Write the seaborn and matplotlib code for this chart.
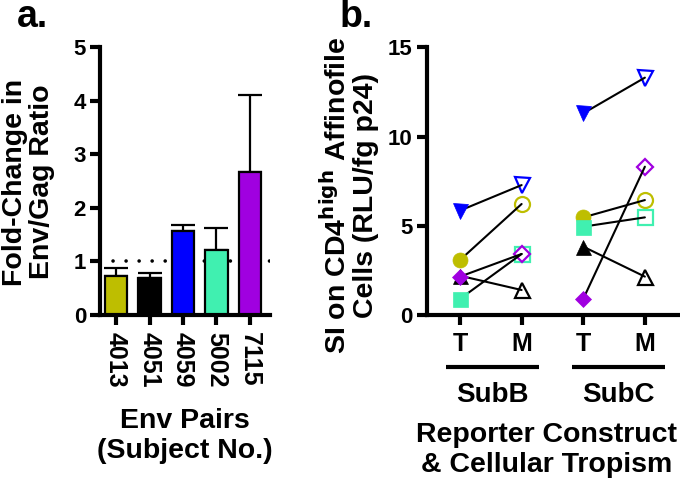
import matplotlib
matplotlib.use("Agg")
import matplotlib.pyplot as plt
import seaborn as sns
import numpy as np
import pandas as pd

sns.set_theme(style="ticks")
plt.rcParams['font.family'] = ['Liberation Sans', 'DejaVu Sans']
plt.rcParams['font.weight'] = 'bold'
for k in ['text.color', 'axes.labelcolor', 'xtick.color', 'ytick.color', 'axes.edgecolor']:
    plt.rcParams[k] = 'black'

# ---------------- data ----------------
subjects = ['4013', '4051', '4059', '5002', '7115']
colors = ['#BEBE00', '#000000', '#0000FF', '#40F0B0', '#A000E0']
markers = ['o', '^', 'v', 's', 'D']
fold_change = [0.73, 0.69, 1.56, 1.22, 2.68]
fold_err = [0.15, 0.10, 0.12, 0.41, 1.43]

conditions = ['T', 'M', 'T', 'M']
groups = ['SubB', 'SubC']
subB_T = [3.08, 2.20, 5.85, 0.90, 2.15]
subB_M = [6.22, 1.40, 7.28, 3.42, 3.42]
subC_T = [5.47, 3.83, 11.30, 4.95, 0.90]
subC_M = [6.44, 2.15, 13.30, 5.47, 8.31]

LW = 3.0
fig = plt.figure(figsize=(6.8, 4.84), dpi=100)

# ---------------- panel a ----------------
axA = fig.add_axes([100/680, 1-315/484, 170/680, (315-47.3)/484])
dfA = pd.DataFrame({'subject': subjects, 'fold': fold_change})
axA.axhline(1, color='black', lw=2.6, dashes=(0.01, 3.6), dash_capstyle='round', zorder=0)
sns.barplot(data=dfA, x='subject', y='fold', hue='subject', palette=colors,
            order=subjects, hue_order=subjects, legend=False, errorbar=None,
            saturation=1, width=0.68, edgecolor='black', linewidth=1.6, ax=axA, zorder=2)
axA.errorbar(np.arange(len(subjects)), fold_change,
             yerr=[np.zeros(len(subjects)), fold_err], fmt='none',
             ecolor='black', elinewidth=1.6, capsize=8.5, capthick=1.6, zorder=1)
axA.set_ylim(0, 5)
axA.set_xlim(-0.48, 4.6)
axA.set_yticks([0, 1, 2, 3, 4, 5])
axA.set_xlabel('')
axA.set_ylabel('')
axA.tick_params(axis='y', labelsize=16, length=7, width=LW, pad=3)
axA.tick_params(axis='x', labelsize=18, length=7, width=LW, pad=5)
axA.set_xticks(range(len(subjects)))
axA.set_xticklabels(subjects, rotation=270, ha='center', va='top')
for lab in axA.get_xticklabels() + axA.get_yticklabels():
    lab.set_fontweight('bold')
for s in ['left', 'bottom']:
    axA.spines[s].set_linewidth(LW)
sns.despine(ax=axA)

fig.text(0.042, 1-182/484, 'Fold-Change in\nEnv/Gag Ratio', rotation=90,
         ha='center', va='center', fontsize=20.5, fontweight='bold',
         multialignment='center', linespacing=1.05)
fig.text(185/680, 1-436/484, 'Env Pairs\n(Subject No.)', ha='center', va='center',
         fontsize=20.5, fontweight='bold', linespacing=1.15)
fig.text(17/680, 1-27/484, 'a.', fontsize=27, fontweight='bold', ha='left', va='baseline')

# ---------------- panel b ----------------
axB = fig.add_axes([426.7/680, 1-315/484, (680-426.7)/680, (315-47.3)/484])
xpos = [0, 1, 2, 3]
rows = []
for i, s in enumerate(subjects):
    rows.append({'subject': s, 'grp': 'SubB', 'x': xpos[0], 'y': subB_T[i]})
    rows.append({'subject': s, 'grp': 'SubB', 'x': xpos[1], 'y': subB_M[i]})
    rows.append({'subject': s, 'grp': 'SubC', 'x': xpos[2], 'y': subC_T[i]})
    rows.append({'subject': s, 'grp': 'SubC', 'x': xpos[3], 'y': subC_M[i]})
dfB = pd.DataFrame(rows)
dfB['unit'] = dfB['subject'] + dfB['grp']

def msize(m):
    return 7.8 if m == 'D' else 10.8

# open markers (M)
for i, s in enumerate(subjects):
    axB.plot([xpos[1], xpos[3]], [subB_M[i], subC_M[i]], linestyle='none',
             marker=markers[i], markersize=msize(markers[i]), markerfacecolor='white',
             markeredgecolor=colors[i], markeredgewidth=1.6, zorder=2, clip_on=False)
# connecting lines
sns.lineplot(data=dfB, x='x', y='y', units='unit', estimator=None, color='black',
             lw=1.5, ax=axB, zorder=3, legend=False)
# filled markers (T)
for i, s in enumerate(subjects):
    axB.plot([xpos[0], xpos[2]], [subB_T[i], subC_T[i]], linestyle='none',
             marker=markers[i], markersize=msize(markers[i]), markerfacecolor=colors[i],
             markeredgecolor=colors[i], markeredgewidth=0.5, zorder=4, clip_on=False)

axB.set_ylim(0, 15)
axB.set_xlim(-0.54, 3.57)
axB.set_yticks([0, 5, 10, 15])
axB.set_xticks(xpos)
axB.set_xticklabels(conditions)
axB.set_xlabel('')
axB.set_ylabel('')
axB.tick_params(axis='y', labelsize=16, length=7, width=LW, pad=3)
axB.tick_params(axis='x', labelsize=18, length=7, width=LW, pad=5)
for lab in axB.get_xticklabels() + axB.get_yticklabels():
    lab.set_fontweight('bold')
for s in ['left', 'bottom']:
    axB.spines[s].set_linewidth(LW)
sns.despine(ax=axB)

trans = axB.get_xaxis_transform()
for (x0, x1), g in zip([(-0.22, 1.28), (1.81, 3.32)], groups):
    axB.plot([x0, x1], [-0.193, -0.193], color='black', lw=3, transform=trans,
             clip_on=False, solid_capstyle='butt')
    axB.text((x0 + x1) / 2, -0.30, g, transform=trans, ha='center', va='center',
             fontsize=20, fontweight='bold')

fig.text(547/680, 1-450/484, 'Reporter Construct\n& Cellular Tropism', ha='center',
         va='center', fontsize=20.5, fontweight='bold', linespacing=1.15)
fig.text(350/680, 1-195/484, 'SI on CD4$^{\\mathbf{high}}$ Affinofile\nCells (RLU/fg p24)',
         rotation=90, ha='center', va='center', fontsize=20.5, fontweight='bold',
         multialignment='center', linespacing=1.05)
fig.text(340/680, 1-27/484, 'b.', fontsize=27, fontweight='bold', ha='left', va='baseline')

fig.savefig('out.png', dpi=100)
